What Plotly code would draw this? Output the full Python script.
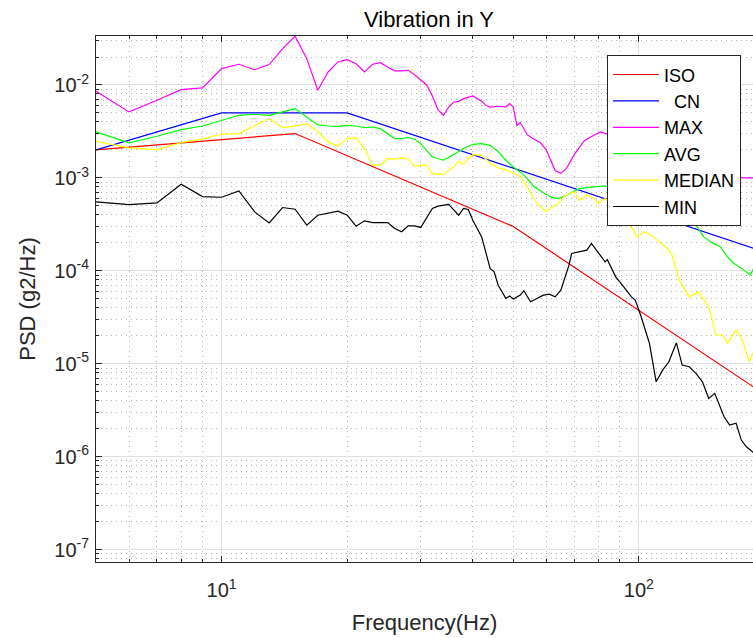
import plotly.graph_objects as go
import math

# ---------------- data ----------------
iso_f = [5, 15, 50, 200]
iso_v = [2.0e-3, 3.0e-3, 3.0e-4, 4.69e-6]

cn_f = [5, 10, 20, 200]
cn_v = [2.0e-3, 5.0e-3, 5.0e-3, 1.6e-4]

max_f = [5, 6, 7, 8, 9, 10, 11, 12, 13, 14, 15, 16, 17, 18, 19, 20, 21, 22, 23, 24, 25, 26, 27, 28, 29, 30,
         31, 32, 33, 34, 35, 36, 37, 38, 40, 42, 43, 44, 46, 48, 49, 50, 51, 52, 54, 56, 58, 60, 61, 63, 65,
         67, 70, 74, 78, 81, 84, 90, 100, 115, 135, 155, 178, 184, 189]
max_v = [8.55e-3, 5.13e-3, 6.84e-3, 8.91e-3, 9.29e-3, 1.50e-2, 1.67e-2, 1.46e-2, 1.66e-2, 2.46e-2, 3.35e-2,
         1.92e-2, 8.77e-3, 1.38e-2, 1.77e-2, 1.87e-2, 1.69e-2, 1.38e-2, 1.67e-2, 1.74e-2, 1.56e-2, 1.42e-2,
         1.42e-2, 1.44e-2, 1.29e-2, 1.12e-2, 1.0e-2, 7.6e-3, 5.4e-3, 4.72e-3, 5.79e-3, 6.56e-3, 6.67e-3,
         7.13e-3, 7.62e-3, 6.67e-3, 6.04e-3, 5.79e-3, 5.90e-3, 5.79e-3, 6.30e-3, 5.79e-3, 3.68e-3, 3.94e-3,
         2.92e-3, 2.61e-3, 2.40e-3, 2.0e-3, 1.66e-3, 1.20e-3, 1.12e-3, 1.26e-3, 1.78e-3, 2.51e-3, 2.88e-3,
         3.13e-3, 2.95e-3, 2.5e-3, 2.0e-3, 1.6e-3, 1.3e-3, 1.1e-3, 1.0e-3, 1.0e-3, 1.0e-3]

avg_f = [5, 6, 7, 8, 9, 10, 11, 12, 13, 14, 15, 16, 17, 18, 19, 20, 21, 22, 23, 24, 25, 26, 27, 28, 29, 30,
         32, 34, 36, 38, 40, 42, 44, 46, 48, 50, 52, 54, 56, 58, 60, 62, 64, 66, 68, 72, 78, 83, 90, 100,
         107, 110, 113, 117, 122, 127, 133, 138, 143, 150, 157, 163, 169, 177, 185, 189]
avg_v = [3.13e-3, 2.38e-3, 2.81e-3, 3.31e-3, 3.62e-3, 4.17e-3, 4.72e-3, 4.84e-3, 4.72e-3, 5.13e-3, 5.57e-3,
         4.53e-3, 3.72e-3, 3.62e-3, 3.59e-3, 3.68e-3, 3.62e-3, 3.48e-3, 3.53e-3, 3.39e-3, 3.00e-3, 2.65e-3,
         2.65e-3, 2.72e-3, 2.61e-3, 2.34e-3, 1.68e-3, 1.55e-3, 1.78e-3, 2.07e-3, 2.30e-3, 2.34e-3, 2.24e-3,
         1.91e-3, 1.55e-3, 1.31e-3, 1.16e-3, 9.84e-4, 8.13e-4, 7.24e-4, 6.62e-4, 6.17e-4, 6.0e-4, 6.31e-4,
         6.79e-4, 7.67e-4, 8.0e-4, 8.2e-4, 7.0e-4, 5.5e-4, 4.17e-4, 3.51e-4, 3.98e-4, 4.37e-4, 5.08e-4,
         4.17e-4, 4.9e-4, 2.97e-4, 2.32e-4, 2.0e-4, 1.81e-4, 1.41e-4, 1.20e-4, 1.05e-4, 9.0e-5, 1.10e-4]

med_f = [5, 6, 7, 8, 9, 10, 11, 12, 13, 14, 15, 16, 17, 18, 19, 20, 21, 22, 23, 24, 25, 26, 27, 28, 29, 30,
         31, 32, 34, 36, 37, 38, 40, 42, 44, 46, 48, 50, 52, 54, 56, 58, 60, 62, 64, 66, 68, 70, 72, 75, 78,
         80, 83, 87, 91, 97, 99, 103, 107, 112, 117, 120, 125, 132, 139, 147, 153, 159, 163, 171, 177, 184, 189]
med_v = [2.48e-3, 2.10e-3, 2.02e-3, 2.40e-3, 2.61e-3, 2.95e-3, 3.00e-3, 3.68e-3, 4.35e-3, 3.48e-3, 3.60e-3,
         3.84e-3, 3.16e-3, 2.44e-3, 2.19e-3, 2.65e-3, 2.69e-3, 2.07e-3, 1.37e-3, 1.37e-3, 1.61e-3, 1.59e-3,
         1.64e-3, 1.59e-3, 1.33e-3, 1.37e-3, 1.37e-3, 1.11e-3, 1.09e-3, 1.31e-3, 1.52e-3, 1.40e-3, 1.78e-3,
         1.75e-3, 1.45e-3, 1.28e-3, 1.23e-3, 1.13e-3, 1.03e-3, 8.0e-4, 6.0e-4, 4.88e-4, 4.39e-4, 4.88e-4,
         5.30e-4, 6.25e-4, 6.79e-4, 7.06e-4, 5.75e-4, 6.52e-4, 6.0e-4, 5.30e-4, 6.0e-4, 5.0e-4, 3.98e-4,
         2.74e-4, 2.32e-4, 2.63e-4, 2.42e-4, 2.05e-4, 1.74e-4, 1.48e-4, 7.94e-5, 5.25e-5, 5.94e-5, 4.10e-5,
         2.04e-5, 2.04e-5, 1.66e-5, 2.30e-5, 1.80e-5, 1.05e-5, 1.40e-5]

min_f = [5, 6, 7, 8, 9, 10, 11, 12, 13, 14, 15, 16, 17, 18, 19, 20, 21, 22, 23, 24, 25, 26, 27, 28, 29, 30,
         32, 33, 35, 37, 38, 39, 40, 42, 43, 44, 45, 46, 48, 49, 50, 52, 53, 55, 57, 59, 61, 63, 65, 68, 69,
         72, 75, 77, 79, 83, 84, 88, 92, 96, 98, 101, 106, 110, 114, 118, 123, 127, 132, 137, 142, 147, 152,
         160, 165, 171, 176, 181, 189]
min_v = [5.52e-4, 5.16e-4, 5.38e-4, 8.55e-4, 6.30e-4, 6.19e-4, 7.24e-4, 4.31e-4, 3.28e-4, 4.80e-4, 4.60e-4,
         3.10e-4, 3.97e-4, 4.21e-4, 4.39e-4, 3.97e-4, 3.02e-4, 3.45e-4, 3.31e-4, 3.31e-4, 3.31e-4, 2.85e-4,
         2.63e-4, 3.05e-4, 3.05e-4, 2.93e-4, 4.69e-4, 4.97e-4, 5.18e-4, 3.97e-4, 4.69e-4, 4.57e-4, 3.51e-4,
         2.32e-4, 1.54e-4, 1.06e-4, 9.75e-5, 7.0e-5, 5.05e-5, 5.35e-5, 4.97e-5, 5.48e-5, 6.10e-5, 4.65e-5,
         5.05e-5, 5.47e-5, 5.62e-5, 5.25e-5, 6.19e-5, 1.15e-4, 1.54e-4, 1.60e-4, 1.67e-4, 1.97e-4, 1.67e-4,
         1.25e-4, 1.32e-4, 8.61e-5, 6.73e-5, 5.25e-5, 4.84e-5, 3.33e-5, 1.66e-5, 6.40e-6, 8.55e-6, 1.05e-5,
         1.68e-5, 9.68e-6, 9.29e-6, 7.87e-6, 6.40e-6, 4.24e-6, 4.80e-6, 2.69e-6, 2.19e-6, 2.29e-6, 1.51e-6,
         1.28e-6, 1.09e-6]

series_names = ["ISO", "\u00a0\u00a0CN", "MAX", "AVG", "MEDIAN", "MIN"]
series_colors = ["#ff0000", "#0000ff", "#ff00ff", "#00ff00", "#ffff00", "#000000"]

x_tickvals = [10, 100]
x_ticktext = ["10<sup>1</sup>", "10<sup>2</sup>"]
y_tickvals = [1e-7, 1e-6, 1e-5, 1e-4, 1e-3, 1e-2]
y_ticktext = ["10<sup>-7</sup>", "10<sup>-6</sup>", "10<sup>-5</sup>", "10<sup>-4</sup>",
              "10<sup>-3</sup>", "10<sup>-2</sup>"]

# ---------------- figure ----------------
FONT = "Liberation Sans, Arial, Helvetica, sans-serif"
INK = "#262626"

fig = go.Figure()
all_f = [iso_f, cn_f, max_f, avg_f, med_f, min_f]
all_v = [iso_v, cn_v, max_v, avg_v, med_v, min_v]
for i, (fx, vy) in enumerate(zip(all_f, all_v)):
    fig.add_trace(go.Scatter(
        x=fx, y=vy, mode="lines", name=series_names[i], legendgroup=str(i),
        line=dict(color=series_colors[i], width=1.2), hoverinfo="skip"))

axis_common = dict(
    type="log", showline=True, linecolor=INK, linewidth=1,
    ticks="inside", ticklen=6, tickcolor=INK,
    showgrid=True, gridcolor="#e0e0e0", gridwidth=1.3,
    tickfont=dict(family=FONT, size=20, color=INK),
    zeroline=False,
    minor=dict(dtick="D1", ticks="inside", ticklen=3, tickcolor=INK,
               showgrid=True, gridcolor="#b4b4b4", griddash="1px,4px", gridwidth=1),
)

fig.update_layout(
    width=753, height=638,
    margin=dict(l=96, r=0, t=36, b=76),
    paper_bgcolor="white", plot_bgcolor="white",
    title=dict(text="Vibration in Y", x=429 / 753, xanchor="center", y=1 - 19 / 638, yanchor="middle",
               font=dict(family=FONT, size=22, color="#000000")),
    xaxis=dict(axis_common, range=[math.log10(5), math.log10(187.7)], mirror="ticks",
               tickvals=x_tickvals, ticktext=x_ticktext, ticklabelstandoff=10,
               title=dict(text="Frequency(Hz)", font=dict(family=FONT, size=22, color=INK), standoff=14)),
    yaxis=dict(axis_common, range=[-7.133, -1.473], mirror=False,
               tickvals=y_tickvals, ticktext=y_ticktext, ticklabelstandoff=2,
               title=dict(text="PSD (g2/Hz)", font=dict(family=FONT, size=22, color=INK), standoff=12)),
    legend=dict(x=(607 - 96) / 657, y=(561.7 - 55) / 526, xanchor="left", yanchor="top",
                bgcolor="white", bordercolor=INK, borderwidth=1,
                font=dict(family=FONT, size=18, color="#000000"),
                itemwidth=46, tracegroupgap=2, traceorder="normal"),
    showlegend=True,
)

fig.write_html("out.html")
